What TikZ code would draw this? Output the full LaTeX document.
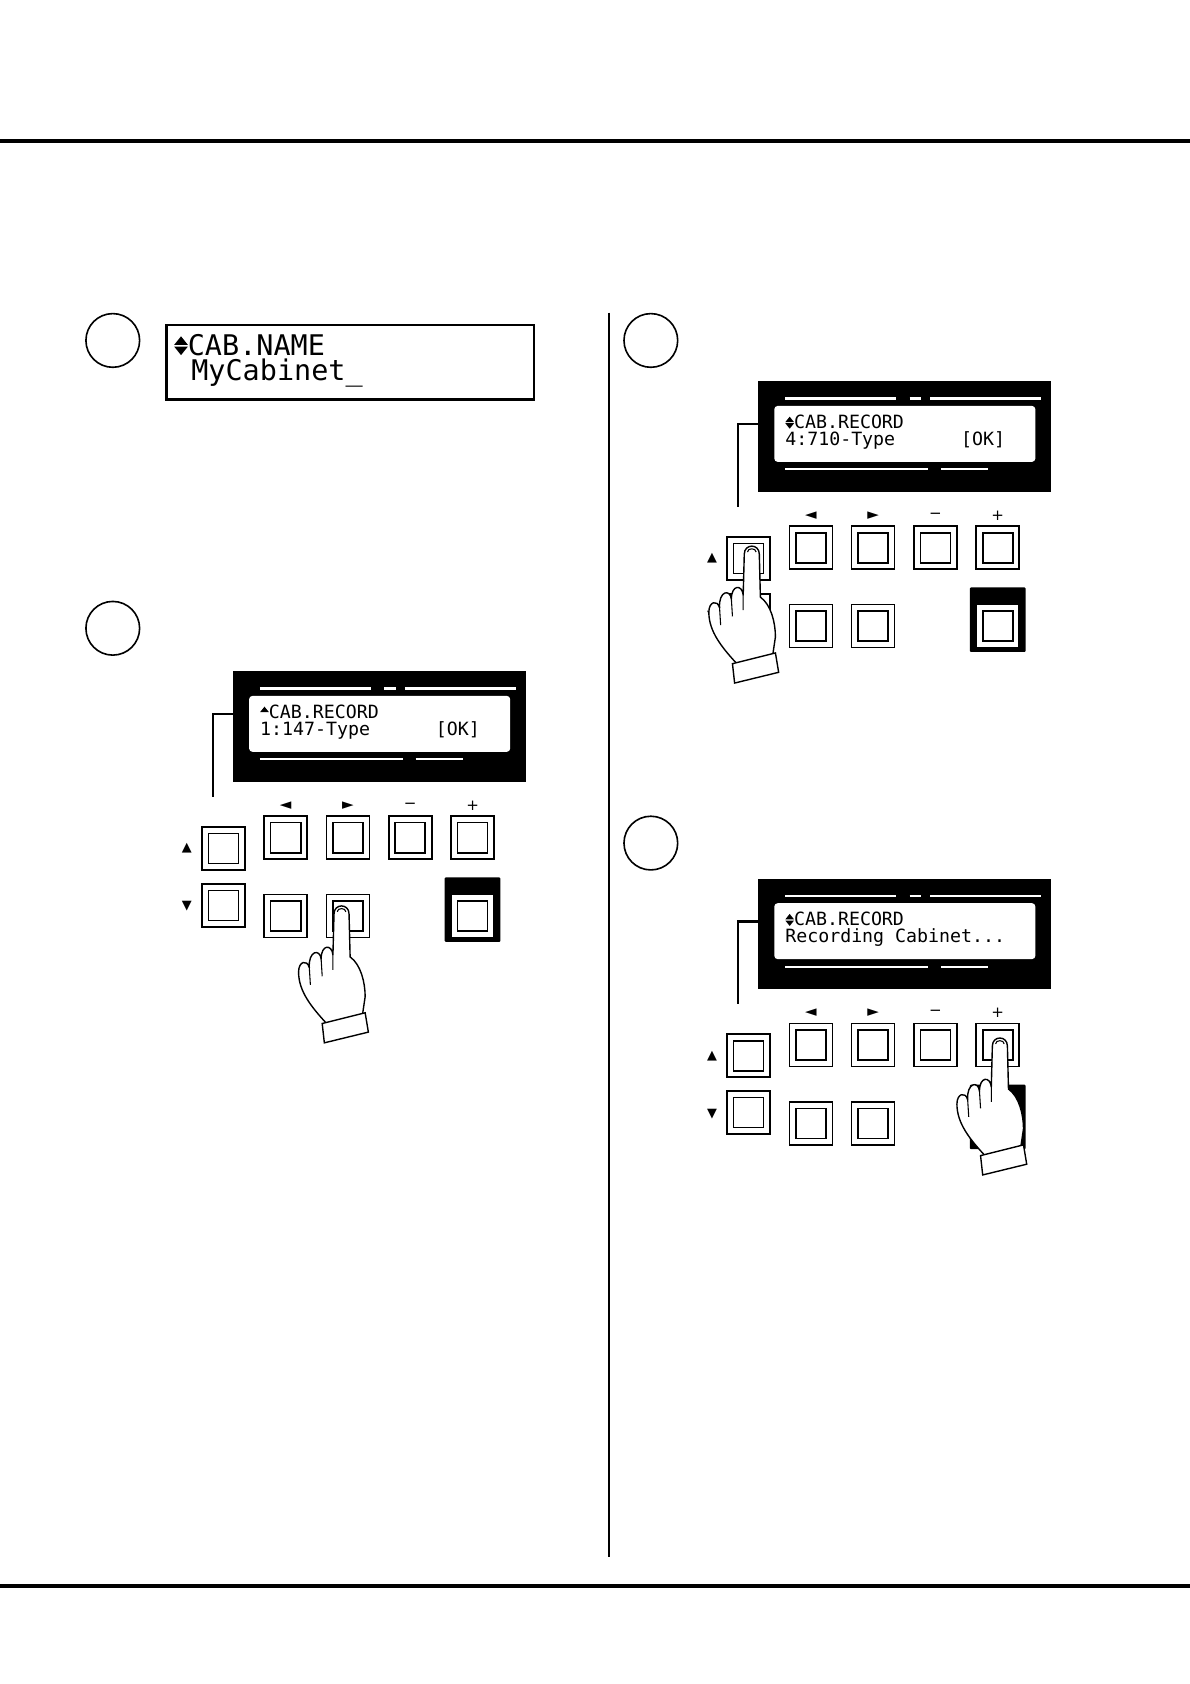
\documentclass[tikz,border=0pt]{standalone}
\usepackage{fontspec}
\setmonofont{DejaVu Sans Mono}
\newfontfamily\symfont{DejaVu Sans}
\begin{document}
\tikzset{
  keybox/.style={draw, line width=1.5pt, fill=white},
  stepmark/.style={draw, circle, line width=1.5pt, minimum size=50pt, inner sep=0pt},
  lcdtext/.style={font=\ttfamily\fontsize{17}{17}\selectfont, anchor=west, inner sep=0pt},
  keylabel/.style={font=\symfont\fontsize{14}{14}\selectfont, inner sep=0pt}
}
% up/down glyph
\newcommand{\updn}{\tikz[x=0.06em,y=0.06em,baseline=0pt]{\fill (0,6)--(4,11)--(8,6)--cycle; \fill (0,5)--(4,0)--(8,5)--cycle;}}
\newcommand{\uponly}{\tikz[x=0.06em,y=0.06em,baseline=0pt]{\fill (0,6)--(4,11)--(8,6)--cycle;}}
% key with inner square
\newcommand{\key}[2]{%
  \draw[keybox] (#1,#2) rectangle ++(40,40);
  \draw[line width=1.5pt] (#1+6,#2+6) rectangle ++(28,28);}
% hand pointing up, tip at (0,0)
\newcommand{\hand}[2]{%
  \begin{scope}[shift={(#1,#2)}]
    \draw[line width=1.3pt, fill=white, line join=round]
      (-7,8) .. controls (-7,-2) and (7,-2) .. (7,8)
      -- (8,48) .. controls (18,55) and (22,72) .. (22,85)
      -- (18,112) -- (-12,112)
      .. controls (-28,95) and (-40,80) .. (-40,62)
      .. controls (-40,52) and (-32,50) .. (-30,58)
      .. controls (-31,42) and (-20,40) .. (-19,50)
      .. controls (-19,36) and (-9,36) .. (-8,46)
      -- cycle;
    \draw[line width=1.3pt, fill=white] (-18,110) -- (22,100) -- (25,118) -- (-16,128) -- cycle;
    \draw[line width=1pt] (-4,6) .. controls (-4,2) and (4,2) .. (4,6);
    \draw[line width=1pt] (-30,58) -- (-29,74) (-19,50) -- (-18,66) (-8,46) -- (-8,60);
  \end{scope}}
% control panel, origin at top left of display
\newcommand{\panel}[5]{%
  \begin{scope}[shift={(#1,#2)}]
    \fill (0,0) rectangle (273,103);
    \fill[white, rounded corners=3pt] (15,23) rectangle (258,75);
    \draw[white, line width=2pt] (25,16) -- (128,16) (141,16) -- (152,16) (160,16) -- (263,16);
    \draw[white, line width=2pt] (25,82) -- (158,82) (170,82) -- (214,82);
    \node[lcdtext] (#5a) at (25,38) {#3};
    \node[lcdtext] (#5b) at (25,55) {#4};
    \draw[line width=2pt] (0,40) -- (-19,40) -- (-19,117);
    \foreach \kx/\kl in {29/{◄},87/{►},145/{−},203/{+}}
      \node[keylabel] at (\kx+20,125) {\kl};
    \foreach \kx in {29,87,145,203} {\key{\kx}{135}}
    \key{-29}{145}
    \key{-29}{198}
    \node[keylabel, font=\symfont\fontsize{12}{12}\selectfont] at (-43,165) {▲};
    \node[keylabel, font=\symfont\fontsize{12}{12}\selectfont] at (-43,219) {▼};
    \key{29}{208}
    \key{87}{208}
    \fill[rounded corners=1pt] (197,192) rectangle (249,252);
    \key{203}{208}
  \end{scope}}

\begin{tikzpicture}[x=1pt, y=-1pt]
  \useasboundingbox (0,0) rectangle (1108,1568);
  \fill[white] (0,0) rectangle (1108,1568);
  % rules
  \draw[line width=4pt] (0,131) -- (1108,131);
  \draw[line width=4pt] (0,1477) -- (1108,1477);
  \draw[line width=2pt] (567,291) -- (567,1450);
  % step circles
  \node[stepmark] (s1) at (105,317) {};
  \node[stepmark] (s2) at (105,585) {};
  \node[stepmark] (s3) at (606,317) {};
  \node[stepmark] (s4) at (606,785) {};
  % step 1 display
  \draw[line width=2pt] (155,303) rectangle (497,372);
  \node[lcdtext, font=\ttfamily\fontsize{26.5}{26.5}\selectfont] (nm1) at (162,321) {\updn CAB.NAME};
  \node[lcdtext, font=\ttfamily\fontsize{26.5}{26.5}\selectfont] (nm2) at (162,347) {\phantom{x}MyCabinet\_};
  % panels
  \panel{217}{625}{\uponly CAB.RECORD}{1:147-Type\ \ \ \ \ \ [OK]}{p2}
  \hand{318}{843}
  \panel{706}{355}{\updn CAB.RECORD}{4:710-Type\ \ \ \ \ \ [OK]}{p3}
  \hand{700}{508}
  \panel{706}{818}{\updn CAB.RECORD}{Recording Cabinet...}{p4}
  \hand{931}{966}
\end{tikzpicture}
\end{document}
